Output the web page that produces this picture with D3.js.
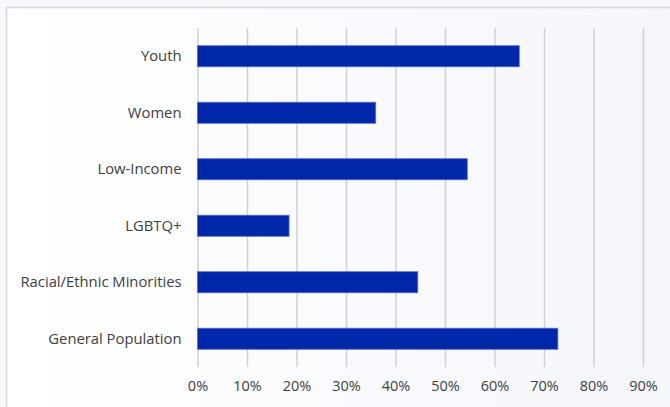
<!DOCTYPE html>
<html><head><meta charset="utf-8">
<script src="https://cdn.jsdelivr.net/npm/d3@7"></script>
<style>html,body{margin:0;padding:0;background:#fff;}svg{display:block;}</style>
</head><body>
<svg id="c" width="670" height="407"></svg>
<script>
const categories = ["Youth","Women","Low-Income","LGBTQ+","Racial/Ethnic Minorities","General Population"];
const values = [0.65,0.36,0.545,0.185,0.445,0.728];
const ticks = [0,0.1,0.2,0.3,0.4,0.5,0.6,0.7,0.8,0.9];

const svg = d3.select("#c");
const W = 670, H = 407;
const defs = svg.append("defs");
const g1 = defs.append("linearGradient").attr("id","bg").attr("x1","0").attr("x2","1").attr("y1","0").attr("y2","0");
g1.append("stop").attr("offset","0").attr("stop-color","#ffffff");
g1.append("stop").attr("offset","1").attr("stop-color","#f4f6fc");
svg.append("rect").attr("width",W).attr("height",H).attr("fill","#f7f8fc");
svg.append("rect").attr("x",6.5).attr("y",7.5).attr("width",W+10).attr("height",H+10)
  .attr("fill","url(#bg)").attr("stroke","#d6d6d6").attr("stroke-width",1.5);

const x = d3.scaleLinear().domain([0,0.9]).range([197.5,643]);
const y = d3.scaleBand().domain(categories).range([28,367]).paddingInner(0.627).paddingOuter(0.3135);

const font = "'Open Sans', 'Noto Sans', sans-serif";
const gx = svg.append("g").attr("transform","translate(0,367)")
  .call(d3.axisBottom(x).tickValues(ticks).tickFormat(d3.format(".0%")).tickSize(-339).tickPadding(14));
gx.select(".domain").remove();
gx.selectAll(".tick line").attr("stroke","#d0d0d0").attr("stroke-width",1.5);
gx.selectAll(".tick text").attr("fill","#404040").attr("font-size",14.5).attr("font-family",font);

svg.append("g").selectAll("rect").data(values).join("rect")
  .attr("x",x(0)).attr("y",(d,i)=>y(categories[i]))
  .attr("width",d=>x(d)-x(0)).attr("height",y.bandwidth())
  .attr("fill","#0026a9").attr("stroke","#5a6fc4").attr("stroke-width",0.8);

const gy = svg.append("g").attr("transform","translate(197.5,0)")
  .call(d3.axisLeft(y).tickSize(0).tickPadding(16));
gy.select(".domain").remove();
gy.selectAll(".tick text").attr("fill","#404040").attr("font-size",14.8).attr("font-family",font);
</script>
</body></html>
